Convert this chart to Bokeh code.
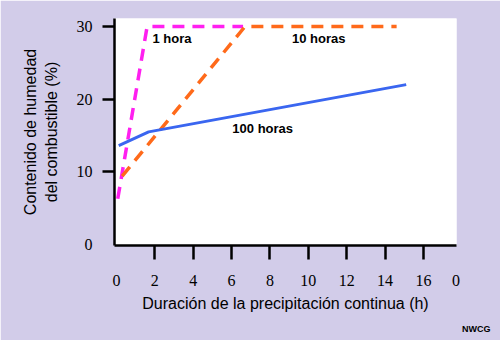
from bokeh.plotting import figure
from bokeh.models import Range1d, FixedTicker, LinearAxis, Title
from bokeh.core.properties import value
from bokeh.embed import file_html
from bokeh.resources import INLINE

# data
hora1_x = [0.07, 1.6, 6.6]
hora1_y = [6.3, 30, 30]
hora10_x = [0.3, 6.7, 14.6]
hora10_y = [9.4, 30, 30]
hora100_x = [0.12, 1.68, 15.1]
hora100_y = [13.6, 15.5, 22.0]

series_names = ["1 hora", "10 horas", "100 horas"]
name_x = [1.88, 9.15, 6.04]
name_y = [28.4, 28.4, 16.0]

x_tick_marks = [2, 4, 6, 8, 10, 12, 14, 16]
x_label_pos = [0, 2, 4, 6, 8, 10, 12, 14, 16, 17.7]
x_label_txt = ["0", "2", "4", "6", "8", "10", "12", "14", "16", "0"]
y_tick_marks = [10, 20, 30]
y_label_pos = [0, 10, 20, 30]
y_label_txt = ["0", "10", "20", "30"]

BG = "#d2cce9"
p = figure(width=500, height=340, output_backend="svg", toolbar_location=None,
           x_range=Range1d(-0.1, 17.72), y_range=Range1d(-0.14, 31.1),
           min_border_left=114, min_border_right=44, min_border_top=18, min_border_bottom=94)
p.background_fill_color = "white"
p.border_fill_color = BG
p.outline_line_color = None
p.grid.visible = False

# inner axes: line + tick marks only (labels not drawn)
for ax in (p.xaxis[0], p.yaxis[0]):
    ax.axis_line_width = 2.5
    ax.axis_line_color = "black"
    ax.major_tick_line_width = 2.5
    ax.major_tick_line_color = "black"
    ax.minor_tick_line_color = None
    ax.major_tick_in = 0
    ax.major_label_text_color = None
    ax.major_label_text_font_size = "1px"
    ax.major_label_standoff = 0
p.xaxis[0].ticker = FixedTicker(ticks=x_tick_marks)
p.yaxis[0].ticker = FixedTicker(ticks=y_tick_marks)
p.xaxis[0].major_tick_out = 14
p.yaxis[0].major_tick_out = 12

# outer axes: labels and titles only
def label_axis(pos, txt, title):
    ax = LinearAxis(ticker=FixedTicker(ticks=pos),
                    major_label_overrides={k: v for k, v in zip(pos, txt)})
    ax.axis_line_color = None
    ax.major_tick_line_color = None
    ax.minor_tick_line_color = None
    ax.major_tick_in = 0
    ax.major_tick_out = 0
    ax.major_label_text_font = "Liberation Serif"
    ax.major_label_text_font_size = "16px"
    ax.major_label_text_color = "black"
    ax.axis_label = title
    ax.axis_label_text_font = "Liberation Sans"
    ax.axis_label_text_font_size = "16px"
    ax.axis_label_text_font_style = "normal"
    ax.axis_label_text_color = "black"
    return ax

xlab = label_axis(x_label_pos, x_label_txt, "Duración de la precipitación continua (h)")
xlab.major_label_standoff = 15
xlab.axis_label_standoff = 6
p.add_layout(xlab, "below")

ylab = label_axis(y_label_pos, y_label_txt, "Contenido de humedad\ndel combustible (%)")
ylab.major_label_standoff = 10
ylab.axis_label_standoff = 14
p.add_layout(ylab, "left")

p.line(hora1_x, hora1_y, line_color="#ff1ff0", line_width=3.5, line_dash="12 8")
p.line(hora10_x, hora10_y, line_color="#ff6a1a", line_width=3.5, line_dash="12 8")
p.line(hora100_x, hora100_y, line_color="#3a66f0", line_width=3)

p.text(x=name_x, y=name_y, text=series_names, text_font=value("Liberation Sans"),
       text_font_size="13px", text_font_style="bold", text_color="black",
       text_align="left", text_baseline="middle")

p.add_layout(Title(text="NWCG", align="right", offset=-34, standoff=14,
                   text_font="Liberation Sans", text_font_size="9px",
                   text_font_style="bold", text_color="black"), "below")

open("out.html", "w").write(file_html(p, INLINE))
